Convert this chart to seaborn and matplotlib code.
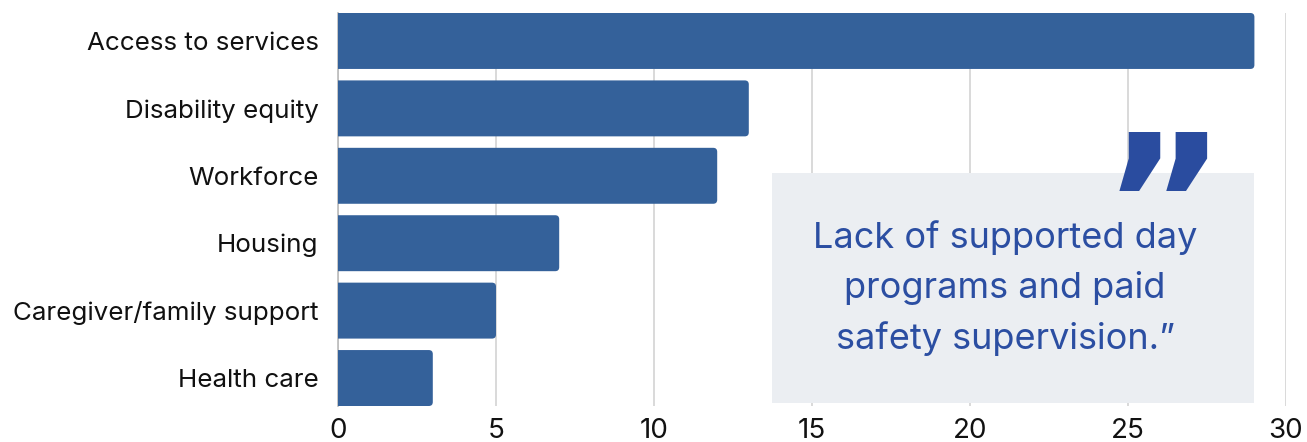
import matplotlib
matplotlib.use("Agg")
import matplotlib.pyplot as plt
import seaborn as sns
import pandas as pd
from matplotlib.patches import Rectangle, FancyBboxPatch
from matplotlib.textpath import TextPath
from matplotlib.font_manager import FontProperties

# Responses by theme
themes = ["Access to services", "Disability equity", "Workforce",
          "Housing", "Caregiver/family support", "Health care"]
counts = [29, 13, 12, 7, 5, 3]
x_ticks = [0, 5, 10, 15, 20, 25, 30]
quote = "Lack of supported day\nprograms and paid\nsafety supervision.\u201d"
quote_mark = "\u201d"

bar_color = "#34619A"
quote_color = "#2B4EA2"
mark_color = "#2A4C9F"
box_color = "#EBEEF2"

W, H, DPI = 1307, 442, 100

sns.set_theme(style="white")
plt.rcParams["font.family"] = ["Inter", "DejaVu Sans"]

df = pd.DataFrame({"theme": themes, "count": counts})

fig = plt.figure(figsize=(W / DPI, H / DPI), dpi=DPI)
ax = fig.add_axes([338 / W, 36 / H, 948 / W, 393 / H])

bar_h = 0.83
sns.barplot(data=df, x="count", y="theme", color=bar_color, saturation=1,
            width=bar_h, ax=ax, zorder=2)

ax.set_xlim(0, 30)
ax.set_ylim(len(themes) - 1 + bar_h / 2, -bar_h / 2)

# swap the plain rectangles for ones with rounded outer ends; the rounding
# at the baseline end falls outside the axes and is clipped away
px_x = 948 / 30
px_y = 393 / (len(themes) - 1 + bar_h)
r = 4 / px_x
for p in list(ax.patches):
    x0, y0, w, h = p.get_x(), p.get_y(), p.get_width(), p.get_height()
    rounded = FancyBboxPatch((x0 - 2 * r, y0), w + 2 * r, h,
                             boxstyle=f"round,pad=0,rounding_size={r}",
                             mutation_aspect=px_x / px_y,
                             facecolor=p.get_facecolor(), edgecolor="none",
                             zorder=2)
    p.remove()
    ax.add_patch(rounded)

ax.set_xticks(x_ticks)
ax.set_xticklabels([str(t) for t in x_ticks], fontsize=20, color="#111111")
ax.tick_params(axis="y", labelsize=18.7, colors="#111111", length=0, pad=14)
ax.tick_params(axis="x", length=0, pad=9)
ax.set_xlabel("")
ax.set_ylabel("")
ax.grid(axis="x", color="#D3D3D3", linewidth=1.2, zorder=0)
ax.set_axisbelow(True)
for s in ["top", "right", "bottom"]:
    ax.spines[s].set_visible(False)
ax.spines["left"].set_color("#BBBBBB")
ax.spines["left"].set_linewidth(1.2)
ax.spines["left"].set_zorder(1)

# Quote panel
box = Rectangle((772 / W, (H - 403) / H), (1254 - 772) / W, (403 - 173) / H,
                transform=fig.transFigure, facecolor=box_color, edgecolor="none",
                zorder=5)
fig.patches.append(box)
fig.text(1005 / W, (H - 288) / H, quote, ha="center", va="center",
         fontsize=26, color=quote_color, linespacing=1.6, zorder=6)

# Large closing quote mark, sized and placed from its glyph outline
mark_font = FontProperties(family="DejaVu Sans", weight="bold")
probe = TextPath((0, 0), quote_mark, size=100, prop=mark_font).get_extents()
target_h = 192 - 133  # pixels
size_pt = 100 * target_h / (probe.height * DPI / 72)
scale = size_pt / 100 * DPI / 72  # pixels per probe unit
left_px = 1119 - probe.x0 * scale
base_px = (H - 192) - probe.y0 * scale
fig.text(left_px / W, base_px / H, quote_mark, ha="left", va="baseline",
         fontproperties=mark_font, fontsize=size_pt, color=mark_color, zorder=7)

fig.savefig("out.png", dpi=DPI)
